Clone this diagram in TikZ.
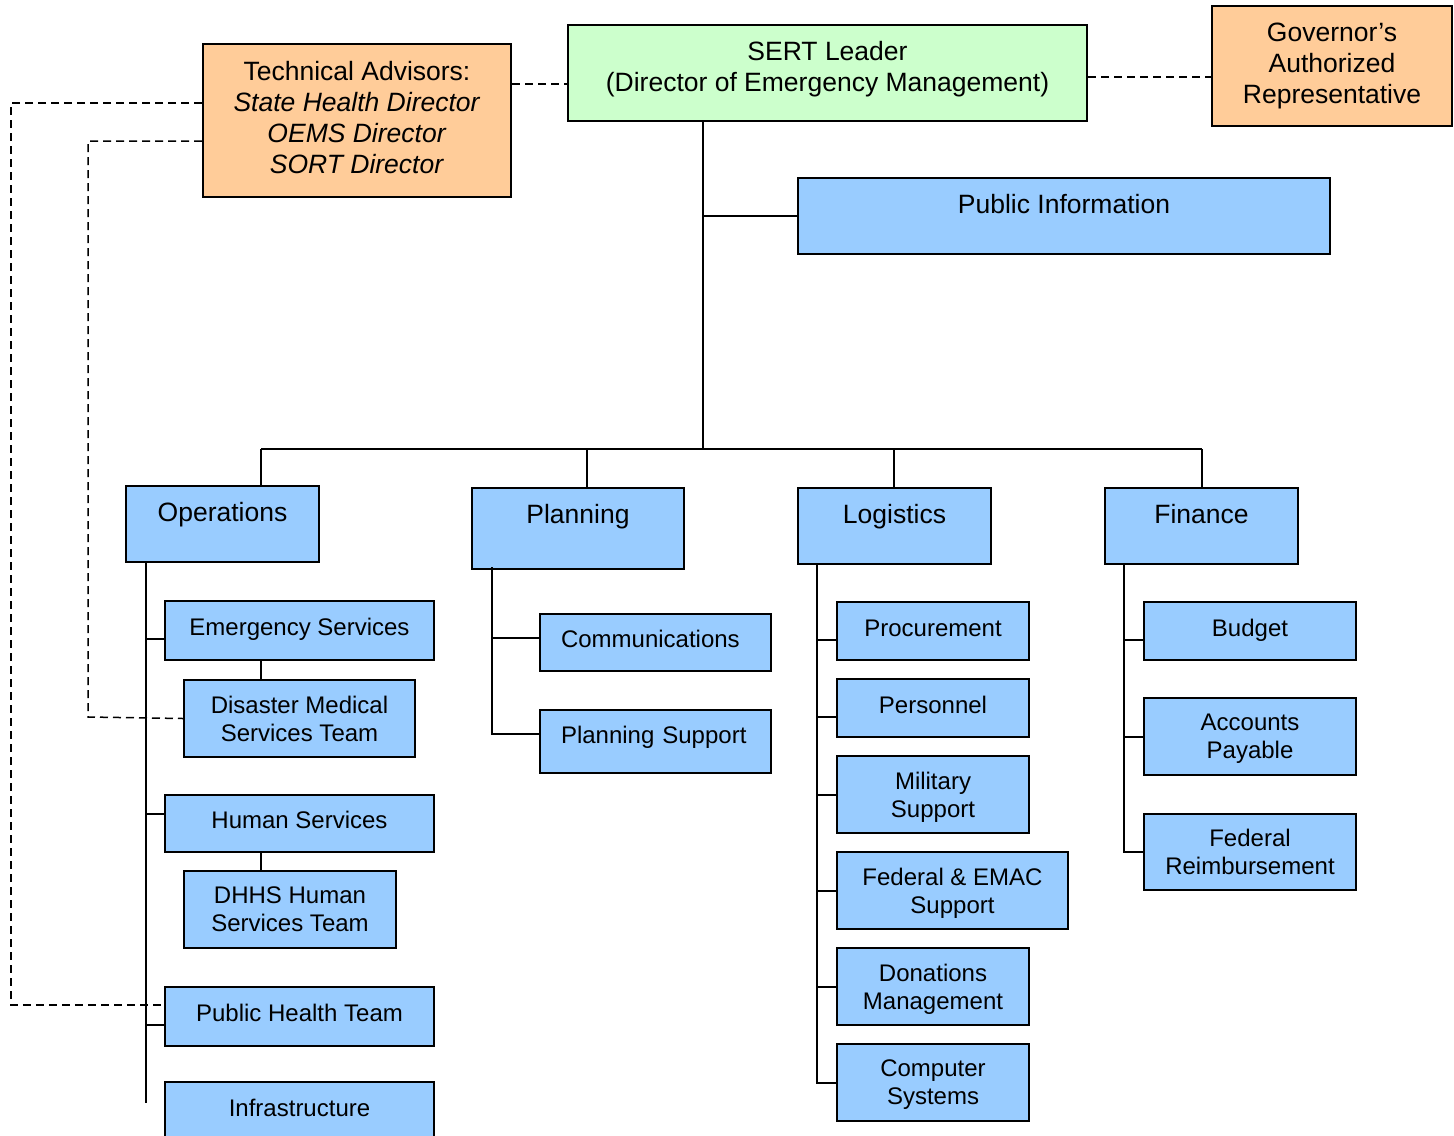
\documentclass[tikz,border=0pt]{standalone}
\usepackage{fontspec}
\setmainfont{Liberation Sans}
\definecolor{boxblue}{HTML}{99CCFF}
\definecolor{boxorange}{HTML}{FFCC99}
\definecolor{boxgreen}{HTML}{CCFFCC}
% box from pixel corners: style, left, top, right, bottom, name, text
\newcommand\orgbox[7]{\node[#1, minimum width={(#4-#2)*0.5pt}, minimum height={(#5-#3)*0.5pt}] (#6) at ({(#2+#4)/2},{(#3+#5)/2}) {#7};}
% last line with a fixed depth (ignores descenders)
\newcommand\lastline[2][0pt]{\raisebox{0pt}[\height][#1]{#2}}
\tikzset{
  basebox/.style={draw=black, line width=1pt, inner sep=0pt, align=center, font=\fontsize{12}{14}\selectfont},
  bluebox/.style={basebox, fill=boxblue},
  singleline/.style={bluebox, text height=9pt, text depth=4pt},
  headbox/.style={bluebox, font=\fontsize{13.25}{15.4}\selectfont, text height=17.75pt},
  topbox/.style={basebox, font=\fontsize{13.25}{15.4}\selectfont},
  link/.style={line width=1pt},
  dashlink/.style={line width=0.75pt, dash pattern=on 4pt off 2.5pt}
}
\begin{document}
\begin{tikzpicture}[x=0.5pt, y=-0.5pt]
\clip (0,0) rectangle (1454,1135);
% top level
\orgbox{topbox, fill=boxgreen}{568}{25}{1087}{121}{sert}{SERT Leader\\\lastline[6.8pt]{(Director of Emergency Management)}}
\orgbox{topbox, fill=boxorange}{1212}{6}{1452}{126}{gov}{Governor’s\\Authorized\\Representative}
\orgbox{topbox, fill=boxorange}{203}{44}{511}{197}{ta}{Technical Advisors:\\\textit{State Health Director}\\\textit{OEMS Director}\\\lastline[3pt]{\textit{SORT Director}}}
\orgbox{headbox, text depth=20.25pt}{798}{178}{1330}{254}{pinfo}{Public Information}
% sections
\orgbox{headbox, text depth=20.25pt}{126}{486}{319}{562}{ops}{Operations}
\orgbox{headbox, text depth=22.75pt}{472}{488}{684}{569}{plan}{Planning}
\orgbox{headbox, text depth=20.25pt}{798}{488}{991}{564}{logi}{Logistics}
\orgbox{headbox, text depth=20.25pt}{1105}{488}{1298}{564}{fin}{Finance}
% operations
\orgbox{singleline}{165}{601}{434}{660}{es}{Emergency Services}
\orgbox{bluebox}{184}{680}{415}{757}{dmst}{Disaster Medical\\Services Team}
\orgbox{singleline}{165}{795}{434}{852}{hs}{Human Services}
\orgbox{bluebox}{184}{871}{396}{948}{dhhs}{DHHS Human\\Services Team}
\orgbox{singleline}{165}{987}{434}{1046}{pht}{Public Health Team}
\orgbox{singleline}{165}{1082}{434}{1141}{infra}{Infrastructure}
% planning
\orgbox{singleline, text width=94.5pt, align=left}{540}{614}{771}{671}{comm}{Communications}
\orgbox{singleline, text width=94.5pt, align=left, text depth=7pt}{540}{710}{771}{773}{psup}{Planning Support}
% logistics
\orgbox{singleline}{837}{602}{1029}{660}{proc}{Procurement}
\orgbox{singleline}{837}{679}{1029}{737}{pers}{Personnel}
\orgbox{bluebox}{837}{756}{1029}{833}{mil}{Military\\\lastline{Support}}
\orgbox{bluebox}{837}{852}{1068}{929}{fed}{Federal \& EMAC\\\lastline{Support}}
\orgbox{bluebox}{837}{948}{1029}{1025}{don}{Donations\\\lastline{Management}}
\orgbox{bluebox}{837}{1044}{1029}{1121}{cs}{Computer\\\lastline{Systems}}
% finance
\orgbox{singleline}{1144}{602}{1356}{660}{bud}{Budget}
\orgbox{bluebox}{1144}{698}{1356}{775}{ap}{Accounts\\\lastline{Payable}}
\orgbox{bluebox}{1144}{814}{1356}{890}{fr}{Federal\\Reimbursement}
% junction points
\coordinate (hub) at (703,449);
\coordinate (jops) at (261,449);
\coordinate (jplan) at (587,449);
\coordinate (jlog) at (894,449);
\coordinate (jfin) at (1202,449);
\coordinate (opsend) at (146,1103);
\coordinate (dA) at (11,1005);
\coordinate (dB) at (88,717);
% main connectors
\draw[link] (sert.south -| hub) -- (hub);
\draw[link] (hub |- pinfo.west) -- (pinfo.west);
\draw[link] (jops) -- (jfin);
\draw[link] (jops) -- (jops |- ops.north);
\draw[link] (jplan) -- (jplan |- plan.north);
\draw[link] (jlog) -- (jlog |- logi.north);
\draw[link] (jfin) -- (jfin |- fin.north);
% operations
\draw[link] (opsend |- ops.south) -- (opsend);
\draw[link] ([yshift=-4.4pt]es.west) -- +(-9.5pt,0);
\draw[link] ([yshift=5pt]hs.west) -- +(-9.5pt,0);
\draw[link] ([yshift=-4.25pt]pht.west) -- +(-9.5pt,0);
\draw[link] (es.south -| jops) -- (dmst.north -| jops);
\draw[link] (hs.south -| jops) -- (dhhs.north -| jops);
% planning
\draw[link] ([xshift=10.5pt,yshift=1.5pt]plan.south west) |- ([yshift=3.75pt]psup.west);
\draw[link] ([yshift=2.25pt]comm.west) -- +(-23.5pt,0);
% logistics
\draw[link] ([xshift=10pt]logi.south west) |- (cs.west);
\draw[link] ([yshift=-4.5pt]proc.west) -- +(-9.5pt,0);
\draw[link] ([yshift=-4.5pt]pers.west) -- +(-9.5pt,0);
\draw[link] (mil.west) -- +(-9.5pt,0);
\draw[link] (fed.west) -- +(-9.5pt,0);
\draw[link] (don.west) -- +(-9.5pt,0);
% finance
\draw[link] ([xshift=10pt]fin.south west) |- (fr.west);
\draw[link] ([yshift=-4.5pt]bud.west) -- +(-9.5pt,0);
\draw[link] (ap.west) -- +(-9.5pt,0);
% dashed advisory links
\draw[dashlink] ([yshift=18.25pt]ta.east) -- ([yshift=-5.5pt]sert.west);
\draw[dashlink] ([yshift=-2pt]sert.east) -- ([yshift=-5.5pt]gov.west);
\draw[dashlink] ([yshift=8.75pt]ta.west) -| (dA) -- ([yshift=5.75pt]pht.west);
\draw[dashlink] ([yshift=-10.25pt]ta.west) -| (dB) -- (dmst.west);
\end{tikzpicture}
\end{document}
